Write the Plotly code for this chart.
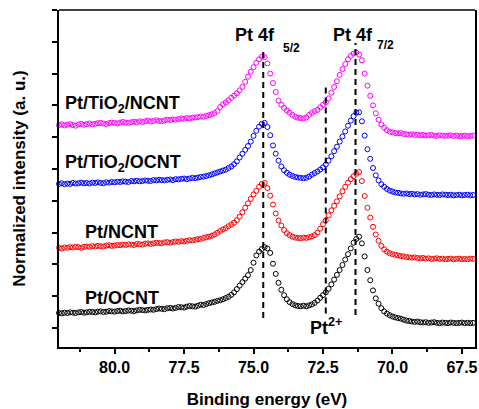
import plotly.graph_objects as go

# ---------------- data ----------------
binding_energy = [
    82.0, 81.9, 81.8, 81.7, 81.6, 81.5, 81.4, 81.3, 81.2, 81.1,
    81.0, 80.9, 80.8, 80.7, 80.6, 80.5, 80.4, 80.3, 80.2, 80.1,
    80.0, 79.9, 79.8, 79.7, 79.6, 79.5, 79.4, 79.3, 79.2, 79.1,
    79.0, 78.9, 78.8, 78.7, 78.6, 78.5, 78.4, 78.3, 78.2, 78.1,
    78.0, 77.9, 77.8, 77.7, 77.6, 77.5, 77.4, 77.3, 77.2, 77.1,
    77.0, 76.9, 76.8, 76.7, 76.6, 76.5, 76.4, 76.3, 76.2, 76.1,
    76.0, 75.9, 75.8, 75.7, 75.6, 75.5, 75.4, 75.3, 75.2, 75.1,
    75.0, 74.9, 74.8, 74.7, 74.6, 74.5, 74.4, 74.3, 74.2, 74.1,
    74.0, 73.9, 73.8, 73.7, 73.6, 73.5, 73.4, 73.3, 73.2, 73.1,
    73.0, 72.9, 72.8, 72.7, 72.6, 72.5, 72.4, 72.3, 72.2, 72.1,
    72.0, 71.9, 71.8, 71.7, 71.6, 71.5, 71.4, 71.3, 71.2, 71.1,
    71.0, 70.9, 70.8, 70.7, 70.6, 70.5, 70.4, 70.3, 70.2, 70.1,
    70.0, 69.9, 69.8, 69.7, 69.6, 69.5, 69.4, 69.3, 69.2, 69.1,
    69.0, 68.9, 68.8, 68.7, 68.6, 68.5, 68.4, 68.3, 68.2, 68.1,
    68.0, 67.9, 67.8, 67.7, 67.6, 67.5, 67.4, 67.3, 67.2, 67.1,
    67.0,
]

pt_ocnt = [
    1.47, 1.46, 1.48, 1.47, 1.49, 1.48, 1.47, 1.49, 1.50, 1.48,
    1.49, 1.51, 1.50, 1.49, 1.51, 1.52, 1.50, 1.51, 1.53, 1.52,
    1.51, 1.53, 1.54, 1.52, 1.53, 1.55, 1.54, 1.53, 1.55, 1.57,
    1.56, 1.55, 1.57, 1.58, 1.57, 1.59, 1.61, 1.60, 1.59, 1.62,
    1.63, 1.61, 1.63, 1.66, 1.65, 1.64, 1.67, 1.69, 1.68, 1.67,
    1.70, 1.73, 1.72, 1.75, 1.78, 1.80, 1.82, 1.85, 1.87, 1.90,
    1.94, 1.98, 2.04, 2.12, 2.22, 2.33, 2.44, 2.55, 2.66, 2.82,
    3.05, 3.28, 3.40, 3.48, 3.54, 3.50, 3.36, 3.02, 2.70, 2.42,
    2.20, 2.03, 1.90, 1.81, 1.75, 1.71, 1.69, 1.68, 1.70, 1.68,
    1.71, 1.74, 1.79, 1.86, 1.95, 2.03, 2.12, 2.23, 2.37, 2.52,
    2.67, 2.82, 2.98, 3.15, 3.32, 3.50, 3.68, 3.80, 3.87, 3.66,
    3.25, 2.82, 2.50, 2.18, 1.93, 1.76, 1.62, 1.52, 1.45, 1.40,
    1.36, 1.33, 1.31, 1.29, 1.26, 1.23, 1.22, 1.20, 1.19, 1.20,
    1.18, 1.17, 1.18, 1.16, 1.17, 1.18, 1.16, 1.15, 1.17, 1.16,
    1.15, 1.17, 1.16, 1.15, 1.16, 1.17, 1.15, 1.16, 1.15, 1.16,
    1.15,
]

pt_ncnt = [
    3.52, 3.50, 3.53, 3.52, 3.54, 3.53, 3.55, 3.54, 3.52, 3.55,
    3.56, 3.55, 3.57, 3.56, 3.58, 3.57, 3.56, 3.59, 3.60, 3.58,
    3.59, 3.61, 3.60, 3.62, 3.61, 3.63, 3.62, 3.61, 3.64, 3.63,
    3.62, 3.65, 3.66, 3.64, 3.66, 3.68, 3.67, 3.66, 3.69, 3.70,
    3.68, 3.70, 3.72, 3.71, 3.73, 3.72, 3.74, 3.76, 3.75, 3.77,
    3.79, 3.80, 3.83, 3.85, 3.87, 3.90, 3.94, 3.99, 4.05, 4.10,
    4.14, 4.20, 4.25, 4.31, 4.39, 4.50, 4.64, 4.78, 4.92, 5.06,
    5.20, 5.31, 5.44, 5.53, 5.56, 5.40, 5.16, 4.88, 4.60, 4.38,
    4.22, 4.08, 3.98, 3.92, 3.87, 3.84, 3.83, 3.82, 3.84, 3.83,
    3.85, 3.88, 3.92, 4.00, 4.12, 4.26, 4.38, 4.54, 4.70, 4.84,
    4.98, 5.14, 5.30, 5.44, 5.57, 5.68, 5.77, 5.85, 5.90, 5.62,
    5.15, 4.78, 4.47, 4.18, 3.94, 3.74, 3.58, 3.47, 3.40, 3.35,
    3.32, 3.30, 3.28, 3.26, 3.25, 3.23, 3.22, 3.21, 3.22, 3.20,
    3.19, 3.20, 3.18, 3.19, 3.17, 3.18, 3.19, 3.17, 3.18, 3.16,
    3.17, 3.18, 3.16, 3.17, 3.18, 3.16, 3.17, 3.16, 3.18, 3.17,
    3.16,
]

pt_tio2_ocnt = [
    5.53, 5.55, 5.52, 5.54, 5.53, 5.56, 5.54, 5.55, 5.57, 5.55,
    5.56, 5.54, 5.57, 5.56, 5.58, 5.56, 5.55, 5.58, 5.57, 5.59,
    5.58, 5.60, 5.59, 5.61, 5.60, 5.59, 5.62, 5.61, 5.63, 5.61,
    5.62, 5.64, 5.63, 5.62, 5.65, 5.64, 5.66, 5.65, 5.64, 5.66,
    5.67, 5.65, 5.68, 5.67, 5.69, 5.70, 5.68, 5.70, 5.72, 5.71,
    5.73, 5.75, 5.76, 5.78, 5.80, 5.83, 5.86, 5.89, 5.92, 5.95,
    5.98, 6.03, 6.08, 6.15, 6.24, 6.36, 6.48, 6.60, 6.72, 6.86,
    7.04, 7.20, 7.33, 7.42, 7.45, 7.32, 7.06, 6.74, 6.48, 6.26,
    6.08, 5.96, 5.88, 5.82, 5.78, 5.75, 5.73, 5.72, 5.71, 5.72,
    5.76, 5.82, 5.87, 5.92, 5.98, 6.05, 6.14, 6.26, 6.40, 6.56,
    6.70, 6.86, 7.02, 7.18, 7.36, 7.52, 7.66, 7.77, 7.78, 7.50,
    7.05, 6.62, 6.32, 6.03, 5.80, 5.64, 5.52, 5.44, 5.37, 5.32,
    5.29, 5.26, 5.25, 5.23, 5.22, 5.23, 5.21, 5.22, 5.20, 5.21,
    5.19, 5.20, 5.21, 5.19, 5.18, 5.20, 5.19, 5.18, 5.20, 5.19,
    5.18, 5.19, 5.17, 5.18, 5.19, 5.17, 5.18, 5.19, 5.17, 5.18,
    5.18,
]

pt_tio2_ncnt = [
    7.38, 7.40, 7.37, 7.39, 7.41, 7.38, 7.36, 7.40, 7.42, 7.39,
    7.41, 7.43, 7.40, 7.42, 7.44, 7.45, 7.43, 7.41, 7.44, 7.46,
    7.45, 7.43, 7.46, 7.48, 7.46, 7.45, 7.47, 7.49, 7.47, 7.50,
    7.48, 7.50, 7.52, 7.49, 7.51, 7.53, 7.51, 7.50, 7.53, 7.55,
    7.54, 7.56, 7.55, 7.57, 7.59, 7.58, 7.60, 7.59, 7.61, 7.62,
    7.63, 7.65, 7.64, 7.67, 7.69, 7.72, 7.76, 7.82, 7.95, 8.03,
    8.09, 8.16, 8.24, 8.31, 8.38, 8.47, 8.58, 8.74, 8.90, 9.06,
    9.20, 9.34, 9.45, 9.53, 9.52, 9.32, 9.00, 8.70, 8.42, 8.15,
    8.02, 7.92, 7.84, 7.77, 7.70, 7.64, 7.61, 7.60, 7.59, 7.62,
    7.70, 7.76, 7.82, 7.86, 7.94, 8.02, 8.10, 8.22, 8.40, 8.58,
    8.76, 8.96, 9.14, 9.30, 9.45, 9.56, 9.63, 9.66, 9.60, 9.42,
    9.00, 8.62, 8.30, 8.00, 7.75, 7.55, 7.40, 7.30, 7.22, 7.17,
    7.15, 7.13, 7.12, 7.13, 7.10, 7.09, 7.08, 7.09, 7.07, 7.08,
    7.06, 7.07, 7.05, 7.06, 7.07, 7.05, 7.04, 7.06, 7.05, 7.04,
    7.05, 7.06, 7.04, 7.05, 7.03, 7.04, 7.05, 7.03, 7.04, 7.05,
    7.04,
]

series_names = ["Pt/OCNT", "Pt/NCNT", "Pt/TiO<sub>2</sub>/OCNT", "Pt/TiO<sub>2</sub>/NCNT"]
series_values = [pt_ocnt, pt_ncnt, pt_tio2_ocnt, pt_tio2_ncnt]
series_colors = ["#000000", "#ff0000", "#0000ff", "#ff00ff"]

# Reference lines: Pt 4f5/2, Pt2+, Pt 4f7/2 positions (eV) and their vertical extent
ref_line_energy = [74.65, 72.40, 71.33]
ref_line_bottom = [1.31, 1.45, 1.41]
ref_line_top = [9.80, 8.58, 9.96]

x_tick_values = [80.0, 77.5, 75.0, 72.5, 70.0, 67.5]
x_tick_labels = ["80.0", "77.5", "75.0", "72.5", "70.0", "67.5"]

FONT = "Arial, 'Liberation Sans', sans-serif"

fig = go.Figure()
for name, vals, col in zip(series_names, series_values, series_colors):
    fig.add_trace(go.Scatter(
        x=binding_energy, y=vals, mode="markers", name=name,
        marker=dict(symbol="circle-open", size=5, color=col,
                    line=dict(width=1, color=col)),
        showlegend=False, cliponaxis=False, hoverinfo="skip",
    ))

for e, y0, y1 in zip(ref_line_energy, ref_line_bottom, ref_line_top):
    fig.add_shape(type="line", xref="x", yref="y", x0=e, x1=e, y0=y0, y1=y1,
                  line=dict(color="black", width=2, dash="6px,4px"))

# series labels
label_pos = [(81.15, 1.94), (81.15, 4.02), (81.86, 6.16), (81.86, 8.04)]
for name, (lx, ly) in zip(series_names, label_pos):
    fig.add_annotation(x=lx, y=ly, xref="x", yref="y", text=name, showarrow=False,
                       xanchor="left", yanchor="middle",
                       font=dict(family=FONT, size=18, color="black", weight="bold"))

# peak labels
peak_texts = [("Pt 4f", 74.95, 10.21, 18), ("5/2", 73.62, 9.81, 12),
              ("Pt 4f", 71.42, 10.21, 18), ("7/2", 70.24, 9.90, 12)]
for t, px, py, fs in peak_texts:
    fig.add_annotation(x=px, y=py, xref="x", yref="y", text=t, showarrow=False,
                       xanchor="center", yanchor="middle",
                       font=dict(family=FONT, size=fs, color="black", weight="bold"))

fig.add_annotation(x=72.4, y=1.05, xref="x", yref="y", text="Pt<sup>2+</sup>",
                   showarrow=False, xanchor="center", yanchor="middle",
                   font=dict(family=FONT, size=18, color="black", weight="bold"))

# thin top frame line
fig.add_shape(type="line", xref="paper", yref="paper", x0=0, x1=1, y0=1, y1=1,
              line=dict(color="black", width=1.3))

fig.update_layout(
    width=479, height=409,
    margin=dict(l=59, r=4, t=10, b=62),
    paper_bgcolor="white", plot_bgcolor="white",
    font=dict(family=FONT, color="black"),
    xaxis=dict(
        range=[82.0, 67.03], showgrid=False, zeroline=False, automargin=False,
        showline=True, linecolor="black", linewidth=2, mirror=False,
        ticks="outside", ticklen=5, tickwidth=1.5, tickcolor="black",
        tickvals=x_tick_values, ticktext=x_tick_labels,
        tickfont=dict(family=FONT, size=16, color="black", weight="bold"),
        minor=dict(ticks="outside", ticklen=3, tickwidth=1.5, tickcolor="black", dtick=1.25, tick0=67.5),
        title=dict(text="Binding energy (eV)", standoff=18,
                   font=dict(family=FONT, size=17, color="black", weight="bold")),
    ),
    yaxis=dict(
        range=[0.4, 11.0], showgrid=False, zeroline=False, automargin=False,
        showline=True, linecolor="black", linewidth=2, mirror=True,
        ticks="outside", ticklen=5, tickwidth=1.5, tickcolor="black",
        tick0=0, dtick=1, showticklabels=False,
        title=dict(text="Normalized intensity (a. u.)", standoff=22,
                   font=dict(family=FONT, size=17, color="black", weight="bold")),
    ),
)

fig.write_html("out.html", config={"displayModeBar": False},
               post_script="document.body.style.margin='0';document.body.style.overflow='hidden';")
